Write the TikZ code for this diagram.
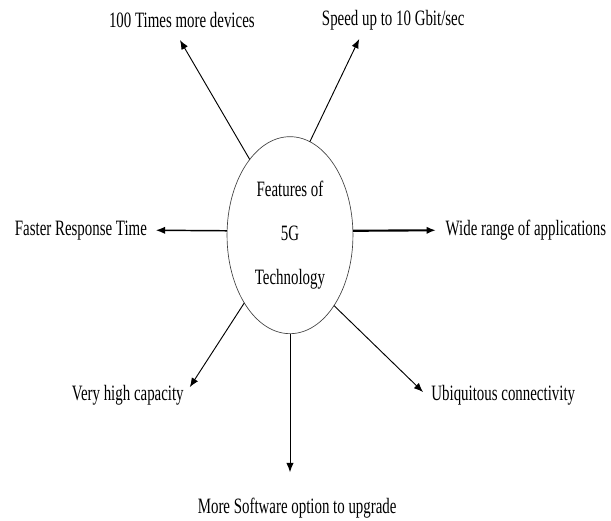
\documentclass[tikz,border=0pt]{standalone}
\usepackage{fontspec}
\setmainfont{Liberation Serif}[FakeStretch=0.68]
\usetikzlibrary{shapes.geometric,arrows.meta}

\begin{document}
\begin{tikzpicture}[>={Latex[length=7pt,width=5.5pt]},line width=0.7pt,
  font=\fontsize{16.5}{19}\selectfont]
\useasboundingbox (-7.67,-7.54) rectangle (8.49,6.22);

\node[draw=black!75,line width=0.5pt,ellipse,minimum width=3.33cm,minimum height=5.21cm,
  inner sep=0pt,outer sep=0pt,align=center] (feat) at (0,0)
  {Features of\\[14pt]5G\\[14pt]Technology};

\node (dev) at (-2.86,5.69) {100 Times more devices};
\node (speed) at (2.73,5.69) {Speed up to 10 Gbit/sec};
\node (resp) at (-5.53,0.13) {Faster Response Time};
\node (apps) at (6.24,0.13) {Wide range of applications};
\node (cap) at (-4.29,-4.23) {Very high capacity};
\node (ubiq) at (5.64,-4.23) {Ubiquitous connectivity};
\node (soft) at (0.19,-7.22) {More Software option to upgrade};

\coordinate (t1) at (-2.91,5.16);
\coordinate (t2) at (1.83,5.19);
\coordinate (t3) at (-3.55,0.13);
\coordinate (t4) at (3.86,0.13);
\coordinate (t5) at (-2.65,-4.02);
\coordinate (t6) at (0,-6.27);
\coordinate (t7) at (3.52,-4.15);

\draw[->] (feat.118.6) -- (t1);
\draw[->] (feat.78) -- (t2);
\draw[->,line width=1.1pt] (feat.176) -- (t3);
\draw[->,line width=1.6pt] (feat.4) -- (t4);
\draw[->] (feat.236.7) -- (t5);
\draw[->] (feat.south) -- (t6);
\draw[->] (feat.302.6) -- (t7);
\end{tikzpicture}
\end{document}
